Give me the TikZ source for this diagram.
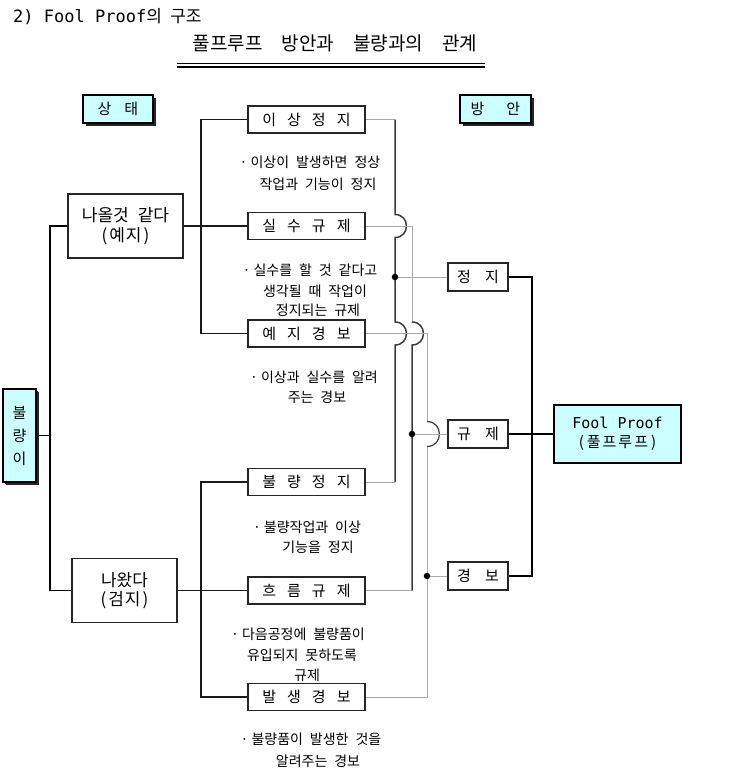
\documentclass[tikz,border=0pt]{standalone}
\usepackage{fontspec}
\setmainfont{Noto Sans CJK KR}[WordSpace=2.2]
\newfontfamily\monof{DejaVu Sans Mono}
\usetikzlibrary{shadows,calc}
\definecolor{cyanl}{HTML}{CCFFFF}
\definecolor{lgr}{HTML}{ABABAB}
\definecolor{dgr}{HTML}{3C3C3C}
\newcommand\gp{\hspace{11pt}}
\newcommand\dt{·\hspace{3pt}}
\begin{document}
\begin{tikzpicture}[x=1pt,y=-1pt,
  wbox/.style={draw=black!85, line width=1.1pt, fill=white, minimum width=117, minimum height=27, inner sep=0, font=\fontsize{15}{18}\selectfont},
  sbox/.style={wbox, minimum width=60, minimum height=28},
  cbox/.style={draw=black, line width=1.1pt, fill=cyanl, inner sep=0, font=\fontsize{15}{18}\selectfont, drop shadow={opacity=1, fill=black!85, shadow xshift=3pt, shadow yshift=-3pt}},
  ann/.style={font=\fontsize{14}{17}\selectfont, inner sep=0},
  blk/.style={draw=black, line width=1.8pt},
  lk/.style={draw=black!90, line width=1.2pt},
  lg/.style={draw=lgr, line width=0.8pt},
  dg/.style={draw=dgr, line width=1.5pt},
  jdot/.style={circle, fill=black, inner sep=0, minimum size=6.5},
  hop/.style={out=0, in=0, looseness=1.7}
]
\useasboundingbox (0,0) rectangle (745,768);

% titles
\node[anchor=west, inner sep=0, font=\fontsize{17}{20}\selectfont] (title) at (13,16.5) {{\monof 2) Fool Proof}의 구조};
\node[inner sep=0, font=\fontsize{19}{22}\selectfont] (sub) at (335,43) {풀프루프\hspace{19pt}방안과\hspace{19pt}불량과의\hspace{19pt}관계};
\draw[line width=1.5pt] (177,63.5) -- (485,63.5);
\draw[line width=1.5pt] (177,67) -- (485,67);

% headers
\node[cbox, minimum width=70, minimum height=28] (st) at (118,109) {상\hspace{13pt}태};
\node[cbox, minimum width=71, minimum height=28] (ba) at (495.5,109) {방\hspace{22pt}안};

% middle boxes
\node[wbox] (a1) at (306.5,119.5) {이\gp 상\gp 정\gp 지};
\node[wbox] (a2) at (306.5,226) {실\gp 수\gp 규\gp 제};
\node[wbox] (a3) at (306.5,333.5) {예\gp 지\gp 경\gp 보};
\node[wbox] (b1) at (306.5,482) {불\gp 량\gp 정\gp 지};
\node[wbox] (b2) at (306.5,590.5) {흐\gp 름\gp 규\gp 제};
\node[wbox] (b3) at (306.5,697) {발\gp 생\gp 경\gp 보};

% state boxes
\node[wbox, minimum width=115, minimum height=64, font=\fontsize{17}{20}\selectfont, align=center] (n1) at (125.5,226) {나올것\hspace{9pt}같다\\(\hspace{2pt}예\hspace{1pt}지\hspace{2pt})};
\node[wbox, minimum width=105, minimum height=64, font=\fontsize{17}{19}\selectfont, align=center] (n2) at (124.5,590.5) {나왔다\\(\hspace{2pt}검\hspace{1pt}지\hspace{2pt})};
\node[cbox, minimum width=33, minimum height=93, align=center, font=\fontsize{15}{23}\selectfont, drop shadow={opacity=1, fill=black!85, shadow xshift=2pt, shadow yshift=-2pt}] (bl) at (19.5,435.5) {불\\량\\이};

% right boxes
\node[sbox] (r1) at (478,277) {정\hspace{14pt}지};
\node[sbox] (r2) at (478,434) {규\hspace{14pt}제};
\node[sbox] (r3) at (478,576) {경\hspace{14pt}보};
\node[draw=black, line width=2.4pt, fill=cyanl, minimum width=127, minimum height=58, align=center, font=\fontsize{15}{19}\selectfont, inner sep=0] (fp) at (617.5,434) {{\monof Fool Proof}\\(\hspace{3pt}풀\hspace{2pt}프\hspace{2pt}루\hspace{2pt}프\hspace{3pt})};

% bus coordinates
\coordinate (L) at (50,0);
\coordinate (M) at (201,0);
\coordinate (P) at (395,0);
\coordinate (Q) at (412,0);
\coordinate (R) at (427,0);
\coordinate (S) at (532,0);

% left tree
\draw[blk] (bl.east) -- (bl.east -| L);
\draw[blk] (n1.west) -- (n1.west -| L) -- (n2.west -| L) -- (n2.west);
\draw[lk] (n1.east) -- (a2.west);
\draw[lk] (a1.west) -- (a1.west -| M) -- (a3.west -| M) -- (a3.west);
\draw[lk] (n2.east) -- (b2.west);
\draw[lk] (b1.west) -- (b1.west -| M) -- (b3.west -| M) -- (b3.west);

% bus P
\draw[lg] (a1.east) -- (a1.east -| P);
\draw[lg] (b1.east) -- (b1.east -| P);
\draw[dg] (a1.east -| P) -- ($(a2.east -| P)+(0,-11.5)$) to[hop] ($(a2.east -| P)+(0,11.5)$) -- ($(a3.east -| P)+(0,-11.5)$) to[hop] ($(a3.east -| P)+(0,11.5)$) -- (b1.east -| P);

% bus Q
\draw[lg] (a2.east) -- (a2.east -| Q) -- ($(a3.east -| Q)+(0,-11.5)$);
\draw[dg] ($(a3.east -| Q)+(0,-11.5)$) to[hop] ($(a3.east -| Q)+(0,11.5)$) -- (b2.east -| Q);
\draw[lg] (b2.east) -- (b2.east -| Q);

% bus R
\draw[lg] (a3.east) -- (a3.east -| R) -- ($(r2.west -| R)+(0,-12.5)$);
\draw[dg, line width=1.2pt] ($(r2.west -| R)+(0,-12.5)$) to[hop] ($(r2.west -| R)+(0,12.5)$);
\draw[lg] ($(r2.west -| R)+(0,12.5)$) -- (b3.east -| R) -- (b3.east);

% junctions
\node[jdot] (j1) at (P |- r1.west) {};
\node[jdot] (j2) at (Q |- r2.west) {};
\node[jdot] (j3) at (R |- r3.west) {};
\draw[lg] (j1) -- (r1.west);
\draw[lg] (j2) -- (r2.west);
\draw[lg] (j3) -- (r3.west);

% right tree
\draw[blk, line width=2.2pt] (r1.east) -- (r1.east -| S) -- (r3.east -| S) -- (r3.east);
\draw[blk, line width=2.2pt] (r2.east) -- (fp.west);

% annotations
\node[ann] (t1a) at (310,162) {\dt 이상이 발생하면 정상};
\node[ann] (t1b) at (318,184) {작업과 기능이 정지};
\node[ann] (t2a) at (310,270) {\dt 실수를 할 것 같다고};
\node[ann] (t2b) at (315,291) {생각될 때 작업이};
\node[ann] (t2c) at (318,310) {정지되는 규제};
\node[ann] (t3a) at (314,377) {\dt 이상과 실수를 알려};
\node[ann] (t3b) at (317,397) {주는 경보};
\node[ann] (t4a) at (307,527) {\dt 불량작업과 이상};
\node[ann] (t4b) at (318,547) {기능을 정지};
\node[ann] (t5a) at (298,634) {\dt 다음공정에 불량품이};
\node[ann] (t5b) at (302,655) {유입되지 못하도록};
\node[ann] (t5c) at (307,675) {규제};
\node[ann] (t6a) at (311,739) {\dt 불량품이 발생한 것을};
\node[ann] (t6b) at (318,761) {알려주는 경보};
\end{tikzpicture}
\end{document}
